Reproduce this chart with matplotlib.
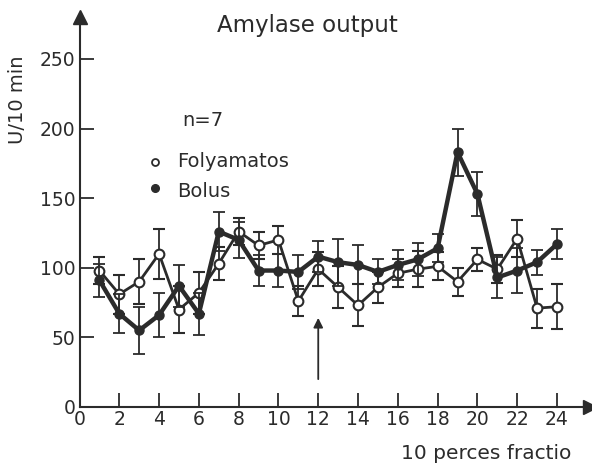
import matplotlib
matplotlib.use("Agg")
import matplotlib.pyplot as plt
import numpy as np

# 10-minute fractions
fractions = list(range(1, 25))

# Continuous infusion (open circles)
folyamatos = [98, 81, 90, 110, 70, 82, 103, 126, 116, 120, 76, 99,
              86, 73, 86, 96, 99, 101, 90, 106, 99, 121, 71, 72]
folyamatos_err = [10, 14, 16, 18, 17, 15, 12, 10, 10, 10, 11, 12,
                  15, 15, 11, 10, 13, 10, 10, 8, 10, 13, 14, 16]

# Bolus (filled circles)
bolus = [91, 67, 55, 66, 87, 67, 126, 120, 98, 98, 97, 108,
         104, 102, 97, 102, 106, 114, 183, 153, 93, 98, 104, 117]
bolus_err = [12, 14, 17, 16, 15, 15, 14, 13, 11, 12, 12, 11,
             17, 14, 9, 11, 12, 10, 17, 16, 15, 16, 9, 11]

x_ticks = list(range(0, 25, 2))
y_ticks = [0, 50, 100, 150, 200, 250]

ink = "#2b2b2b"
plt.rcParams["font.family"] = ["DejaVu Sans"]

fig = plt.figure(figsize=(5.92, 4.63), dpi=100)
ax = fig.add_axes([0.1343, 0.121, 0.862, 0.842])
ax.set_xlim(0, 25.65)
ax.set_ylim(0, 280)

ax.errorbar(fractions, folyamatos, yerr=folyamatos_err, color=ink, lw=2.0,
            marker="o", ms=7, mfc="white", mec=ink, mew=1.5,
            ecolor=ink, elinewidth=1.3, capsize=4.5, capthick=1.3, zorder=3)
ax.errorbar(fractions, bolus, yerr=bolus_err, color=ink, lw=3.2,
            marker="o", ms=6.5, mfc=ink, mec=ink,
            ecolor=ink, elinewidth=1.3, capsize=4.5, capthick=1.3, zorder=4)

for side in ("top", "right"):
    ax.spines[side].set_visible(False)
for side in ("left", "bottom"):
    ax.spines[side].set_color(ink)
    ax.spines[side].set_linewidth(1.5)

ax.set_xticks(x_ticks)
ax.set_yticks(y_ticks)
ax.tick_params(axis="both", direction="in", length=10, width=1.3,
               colors=ink, labelsize=13.5, labelcolor=ink)
ax.tick_params(axis="x", pad=2)
ax.tick_params(axis="y", pad=3)

# Axis arrow heads
ax.plot(1, 0, marker=">", ms=10, color=ink, transform=ax.transAxes, clip_on=False)
ax.plot(0, 1, marker="^", ms=10, color=ink, transform=ax.transAxes, clip_on=False)

# Arrow marking fraction 12
ax.annotate("", xy=(12, 66), xytext=(12, 18),
            arrowprops=dict(arrowstyle="-|>", color=ink, lw=1.3,
                            mutation_scale=14))

fig.text(0.52, 0.945, "Amylase output", ha="center", va="center",
         fontsize=16.5, color=ink)
fig.text(0.678, 0.02, "10 perces fractio", ha="left", va="center",
         fontsize=14.5, color=ink)
fig.text(0.03, 0.785, "U/10 min", rotation=90, ha="center", va="center",
         fontsize=14, color=ink)

# Legend
ax.text(5.15, 206, "n=7", fontsize=14, color=ink, va="center")
ax.plot([3.8], [176], marker="o", ms=5, mfc="white", mec=ink, mew=1.3,
        clip_on=False)
ax.text(4.9, 176, "Folyamatos", fontsize=14, color=ink, va="center")
ax.plot([3.8], [157], marker="o", ms=5.5, color=ink, clip_on=False)
ax.text(4.9, 155, "Bolus", fontsize=14, color=ink, va="center")

fig.savefig("out.png", dpi=100)
